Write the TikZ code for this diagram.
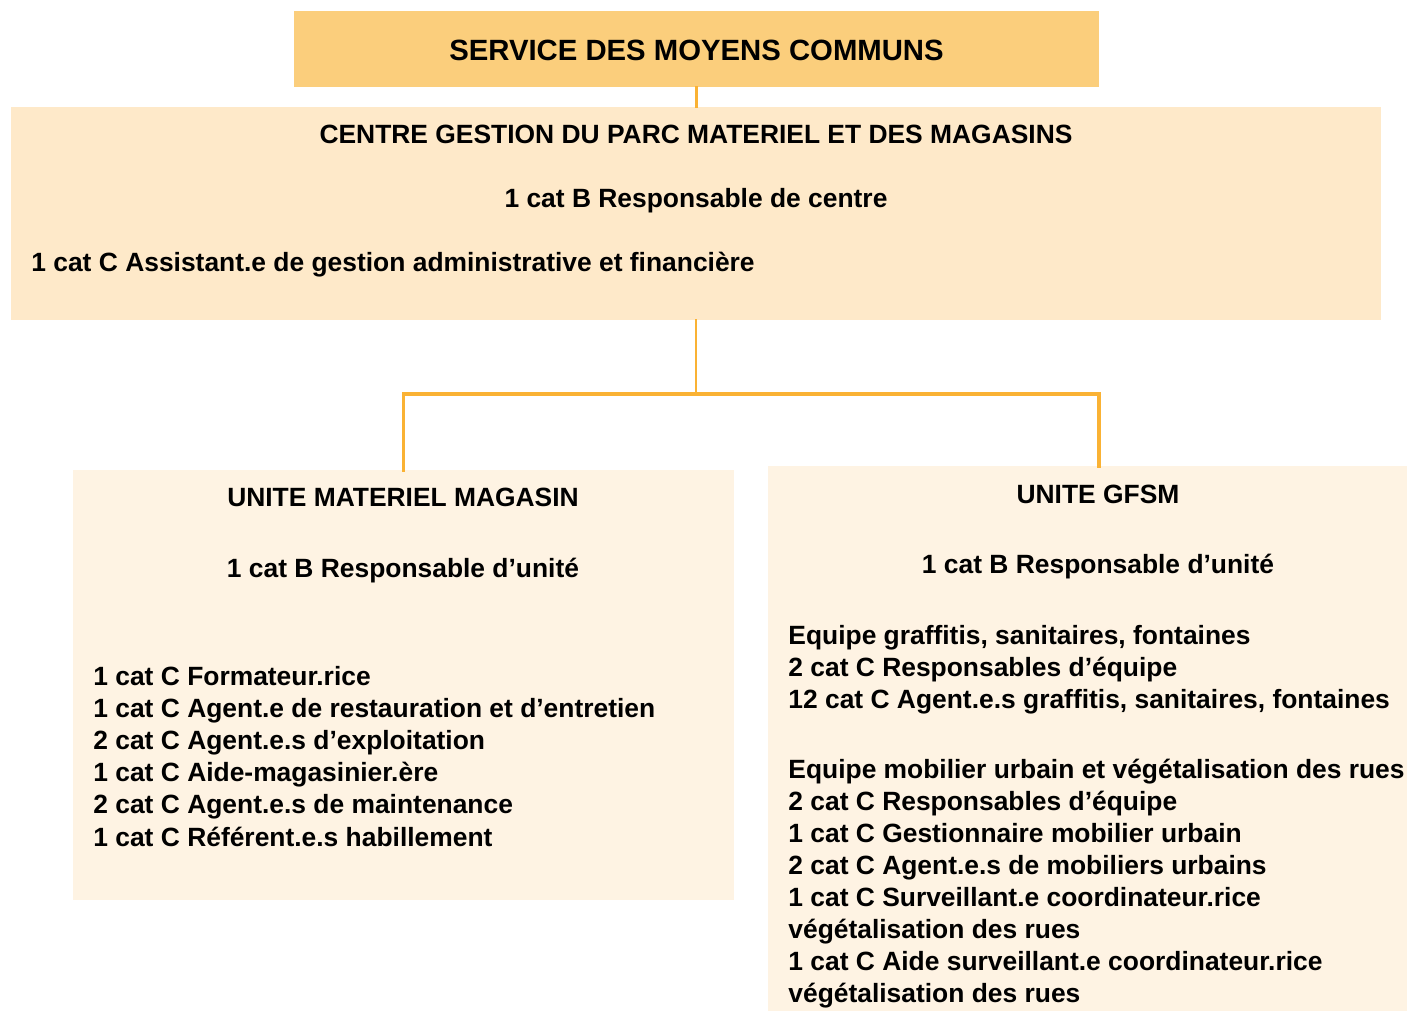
\documentclass[tikz,border=0pt]{standalone}
\usepackage{fontspec}
\setmainfont{Liberation Sans}
\definecolor{titlefill}{RGB}{251,206,124}
\definecolor{centrefill}{RGB}{254,233,201}
\definecolor{unitfill}{RGB}{254,243,227}
\definecolor{linkcol}{RGB}{250,178,52}
\begin{document}
\begin{tikzpicture}[x=0.5pt, y=-0.5pt, line cap=rect, font=\fontsize{13.2}{16}\selectfont\bfseries]
	\tikzset{box style/.style={inner sep=0pt, outer sep=0pt},
		text style/.style={inner sep=0pt},
		link style/.style={draw=linkcol, line width=1.3pt}}
	\useasboundingbox (0,0) rectangle (1407,1011);
	% boxes
	\node[box style, fill=titlefill, minimum width=402.5pt, minimum height=38pt] (top) at (696.5,49) {};
	\node[box style, fill=centrefill, minimum width=685pt, minimum height=106.5pt] (centre) at (696,213.5) {};
	\node[box style, fill=unitfill, minimum width=330.5pt, minimum height=215pt] (left) at (403.5,685) {};
	\node[box style, fill=unitfill, minimum width=319.5pt, minimum height=272.5pt] (right) at (1087.5,738.5) {};
	% links
	\coordinate (fork) at (696,394);
	\coordinate (rdrop) at (1099,466);
	\draw[link style] (top.south) -- (top.south |- centre.north);
	\draw[link style] (centre.south) -- (fork);
	\draw[link style, line width=1.7pt] (fork) -| (left.north);
	\draw[link style, line width=1.7pt] (fork) -| (rdrop);
	% texts
	\node[text style, anchor=base, font=\fontsize{14.65}{17}\selectfont\bfseries] (ttop) at (696.5,60.5) {SERVICE DES MOYENS COMMUNS};
	\node[text style, anchor=base] (tcentre) at (696,143) {CENTRE GESTION DU PARC MATERIEL ET DES MAGASINS};
	\node[text style, anchor=base] (rcentre) at (696,207) {1 cat B Responsable de centre};
	\node[text style, anchor=base west] (acentre) at (31,271) {1 cat C Assistant.e de gestion administrative et financière};
	\node[text style, anchor=base] (tleft) at (403,506) {UNITE MATERIEL MAGASIN};
	\node[text style, anchor=base] (rleft) at (403,577) {1 cat B Responsable d’unité};
	\node[text style, anchor=base] (tright) at (1098,503) {UNITE GFSM};
	\node[text style, anchor=base] (rright) at (1098,573) {1 cat B Responsable d’unité};
	\foreach \t [count=\i] in {1 cat C Formateur.rice,
		1 cat C Agent.e de restauration et d’entretien,
		2 cat C Agent.e.s d’exploitation,
		1 cat C Aide-magasinier.ère,
		2 cat C Agent.e.s de maintenance,
		1 cat C Référent.e.s habillement}
		\node[text style, anchor=base west] (l\i) at (93,{685+32.2*(\i-1)}) {\t};
	\foreach \t [count=\i] in {{Equipe graffitis, sanitaires, fontaines},
		2 cat C Responsables d’équipe,
		{12 cat C Agent.e.s graffitis, sanitaires, fontaines}}
		\node[text style, anchor=base west] (g\i) at (788,{644+32*(\i-1)}) {\t};
	\foreach \t [count=\i] in {Equipe mobilier urbain et végétalisation des rues,
		2 cat C Responsables d’équipe,
		1 cat C Gestionnaire mobilier urbain,
		2 cat C Agent.e.s de mobiliers urbains,
		1 cat C Surveillant.e coordinateur.rice,
		végétalisation des rues,
		1 cat C Aide surveillant.e coordinateur.rice,
		végétalisation des rues}
		\node[text style, anchor=base west] (m\i) at (788,{778+32*(\i-1)}) {\t};
\end{tikzpicture}
\end{document}
